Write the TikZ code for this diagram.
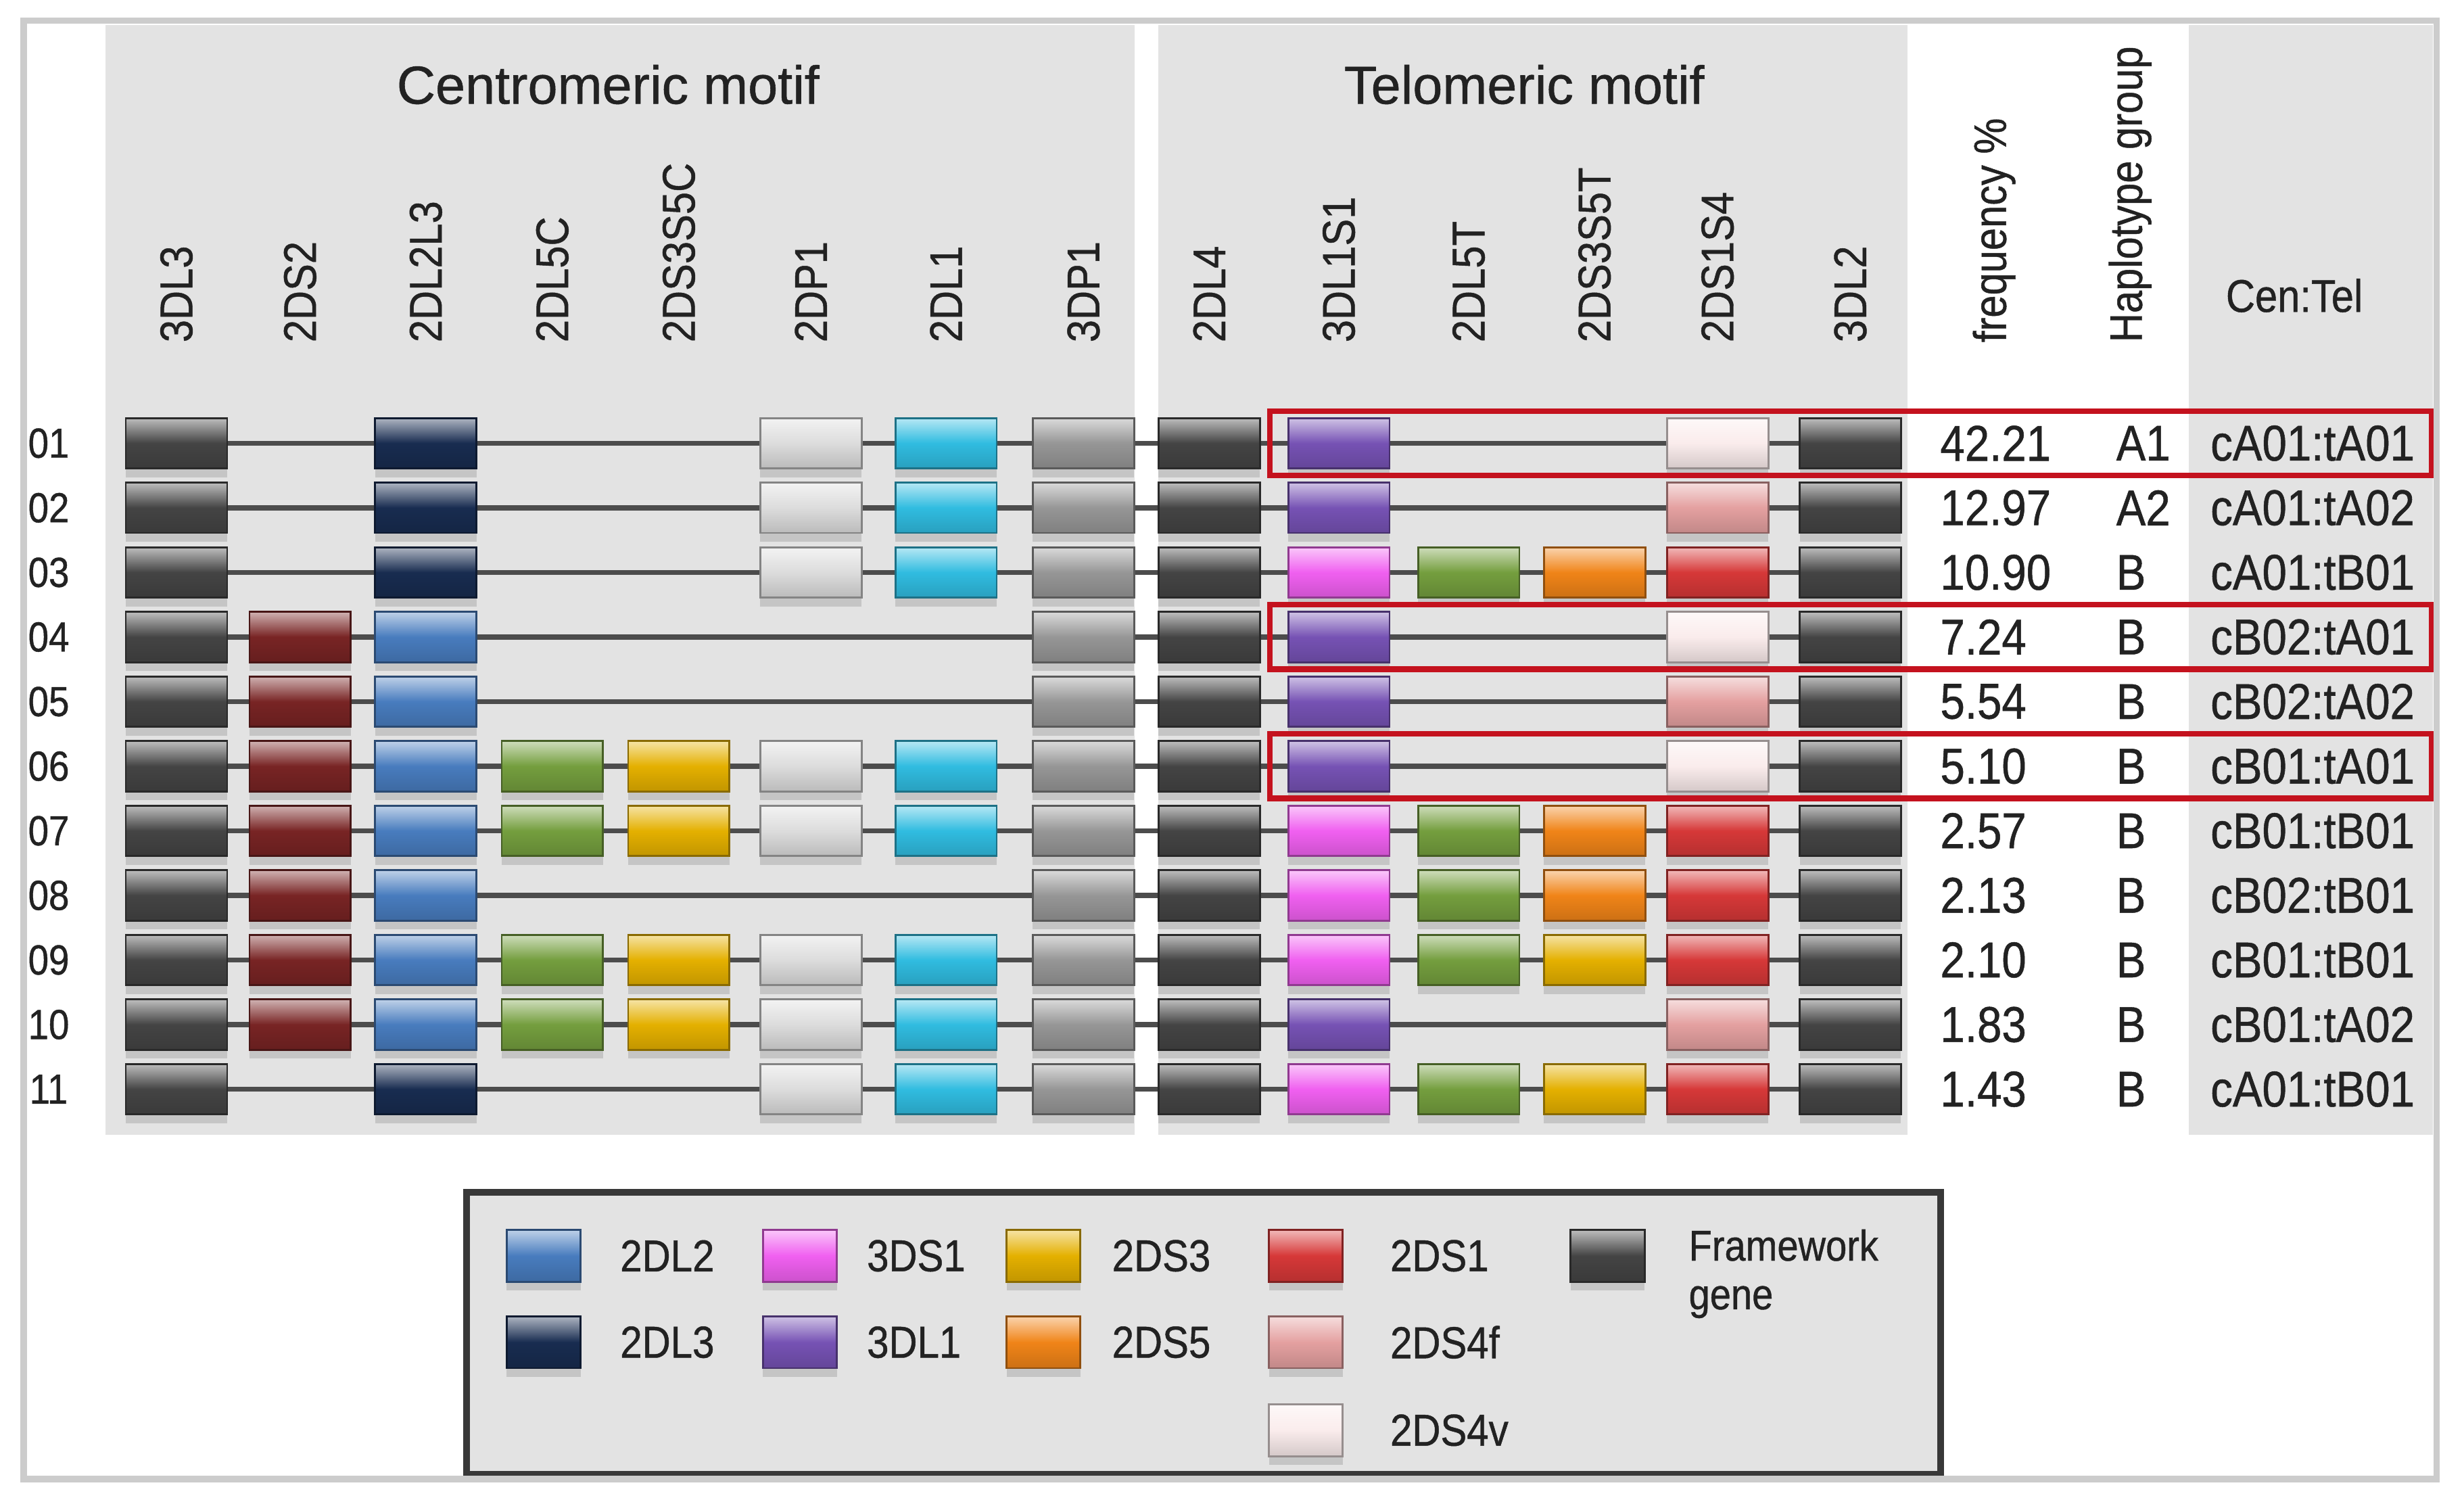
\documentclass[tikz,border=0pt]{standalone}
\usepackage{fontspec}
\setmainfont{Liberation Sans}[FakeStretch=0.88, FakeBold=0.7]
\newfontfamily\titlefont{Liberation Sans}[FakeBold=0.7]
\usetikzlibrary{backgrounds,shadows}
\definecolor{FW}{RGB}{68,68,68}
\definecolor{PA}{RGB}{220,220,220}
\definecolor{LA}{RGB}{48,188,224}
\definecolor{PB}{RGB}{150,150,150}
\definecolor{LB}{RGB}{72,124,190}
\definecolor{LC}{RGB}{24,44,80}
\definecolor{SB}{RGB}{120,36,36}
\definecolor{LE}{RGB}{116,158,62}
\definecolor{SC}{RGB}{228,176,0}
\definecolor{SE}{RGB}{240,132,24}
\definecolor{TL}{RGB}{118,82,180}
\definecolor{TS}{RGB}{240,96,240}
\definecolor{SA}{RGB}{214,56,56}
\definecolor{SF}{RGB}{228,160,160}
\definecolor{SV}{RGB}{250,236,236}
\definecolor{R}{RGB}{196,18,30}
\definecolor{P}{RGB}{227,227,227}
\definecolor{T}{RGB}{34,34,34}
\def\nogene{x}

\begin{document}
\begin{tikzpicture}[
  gene/.style={draw=#1!60!black, line width=0.35pt, top color=#1!35!white,
    bottom color=#1!85!black, middle color=#1, minimum width=0.645cm,
    minimum height=0.32cm, inner sep=0pt,
    drop shadow={shadow xshift=0pt, shadow yshift=-1.6pt, opacity=0.3}},
  key/.style={gene=#1, minimum width=0.47cm, minimum height=0.33cm},
  collab/.style={rotate=90, anchor=west, inner sep=0pt, text=T,
    font=\fontsize{8.3}{9}\selectfont},
  title/.style={anchor=base, inner sep=0pt, text=T,
    font=\titlefont\fontsize{9.7}{11}\selectfont},
  cell/.style={anchor=west, inner sep=0pt, text=T,
    font=\fontsize{9.1}{10}\selectfont},
  rownum/.style={inner sep=0pt, text=T, font=\fontsize{7.6}{8}\selectfont},
  keylab/.style={anchor=west, inner sep=0pt, text=T,
    font=\fontsize{8.1}{9}\selectfont},
  backbone/.style={draw=black!70, line width=0.9pt},
  hilite/.style={draw=R, line width=1pt},
  panel/.style={fill=P},
  frame/.style={draw=black!20, line width=1.15pt},
  keybox/.style={fill=P, draw=black!78, line width=1.2pt}]

  \useasboundingbox (0,0) rectangle (15.68,-9.53);

  \begin{pgfonlayer}{background}
    \fill[panel] (0.67,-0.16) rectangle (7.22,-7.22);
    \fill[panel] (7.37,-0.16) rectangle (12.14,-7.22);
    \fill[panel] (13.93,-0.16) rectangle (15.48,-7.22);
  \end{pgfonlayer}

  \node[title] (cen) at (3.87,-0.66) {Centromeric motif};
  \node[title] (tel) at (9.70,-0.66) {Telomeric motif};

  \foreach \x/\lab [count=\j] in {1.123/3DL3, 1.91/2DS2, 2.71/2DL2L3,
      3.515/2DL5C, 4.32/2DS3S5C, 5.16/2DP1, 6.02/2DL1, 6.895/3DP1,
      7.695/2DL4, 8.52/3DL1S1, 9.346/2DL5T, 10.147/2DS3S5T, 10.93/2DS1S4,
      11.775/3DL2}
    \node[collab] (h\j) at (\x,-2.185) {\lab};
  \node[collab] (freq) at (12.69,-2.185) {frequency \%};
  \node[collab] (hapl) at (13.555,-2.185) {Haplotype group};
  \node[title, anchor=center, font=\fontsize{8.3}{9}\selectfont] (ct) at (14.60,-1.88) {Cen:Tel};

  \foreach \n/\fr/\hg/\ct/\genes [count=\i] in {
      01/42.21/A1/cA01:tA01/{FW,x,LC,x,x,PA,LA,PB,FW,TL,x,x,SV,FW},
      02/12.97/A2/cA01:tA02/{FW,x,LC,x,x,PA,LA,PB,FW,TL,x,x,SF,FW},
      03/10.90/B/cA01:tB01/{FW,x,LC,x,x,PA,LA,PB,FW,TS,LE,SE,SA,FW},
      04/7.24/B/cB02:tA01/{FW,SB,LB,x,x,x,x,PB,FW,TL,x,x,SV,FW},
      05/5.54/B/cB02:tA02/{FW,SB,LB,x,x,x,x,PB,FW,TL,x,x,SF,FW},
      06/5.10/B/cB01:tA01/{FW,SB,LB,LE,SC,PA,LA,PB,FW,TL,x,x,SV,FW},
      07/2.57/B/cB01:tB01/{FW,SB,LB,LE,SC,PA,LA,PB,FW,TS,LE,SE,SA,FW},
      08/2.13/B/cB02:tB01/{FW,SB,LB,x,x,x,x,PB,FW,TS,LE,SE,SA,FW},
      09/2.10/B/cB01:tB01/{FW,SB,LB,LE,SC,PA,LA,PB,FW,TS,LE,SC,SA,FW},
      10/1.83/B/cB01:tA02/{FW,SB,LB,LE,SC,PA,LA,PB,FW,TL,x,x,SF,FW},
      11/1.43/B/cA01:tB01/{FW,x,LC,x,x,PA,LA,PB,FW,TS,LE,SC,SA,FW}} {
    \pgfmathsetmacro\yy{-2.82-0.411*(\i-1)}
    \node[rownum] (n\i) at (0.31,\yy) {\n};
    \foreach \g [count=\j] in \genes {
      \edef\tmp{\g}
      \ifx\tmp\nogene\else
        \node[gene=\g] (g\i-\j) at (h\j |- 0,\yy) {};
      \fi
    }
    \begin{pgfonlayer}{background}
      \draw[backbone] (g\i-1) -- (g\i-14);
    \end{pgfonlayer}
    \node[cell] (f\i) at (12.34,\yy) {\fr};
    \node[cell] (k\i) at (13.46,\yy) {\hg};
    \node[cell] (t\i) at (14.06,\yy) {\ct};
  }

  \foreach \i in {1,4,6}
    \draw[hilite] ([shift={(-0.11,0.205)}]g\i-10.west) rectangle ([shift={(3.37,-0.205)}]g\i-14.east);

  \draw[keybox] (2.97,-7.585) rectangle (12.35,-9.38);
  \foreach \x/\lx/\y/\c/\lab [count=\k] in {3.46/3.94/7.99/LB/2DL2,
      3.46/3.94/8.54/LC/2DL3, 5.09/5.51/7.99/TS/3DS1, 5.09/5.51/8.54/TL/3DL1,
      6.64/7.07/7.99/SC/2DS3, 6.64/7.07/8.54/SE/2DS5, 8.31/8.84/7.99/SA/2DS1,
      8.31/8.84/8.54/SF/2DS4f, 8.31/8.84/9.10/SV/2DS4v} {
    \node[key=\c] (key\k) at (\x,-\y) {};
    \node[keylab] (lab\k) at (\lx,-\y) {\lab};
  }
  \node[key=FW] (keyfw) at (10.23,-7.99) {};
  \node[keylab, anchor=north west, align=left, font=\fontsize{7.8}{8.8}\selectfont] (labfw) at (10.74,-7.815) {Framework\\gene};

  \draw[frame] (0.15,-0.13) rectangle (15.505,-9.41);
\end{tikzpicture}
\end{document}
